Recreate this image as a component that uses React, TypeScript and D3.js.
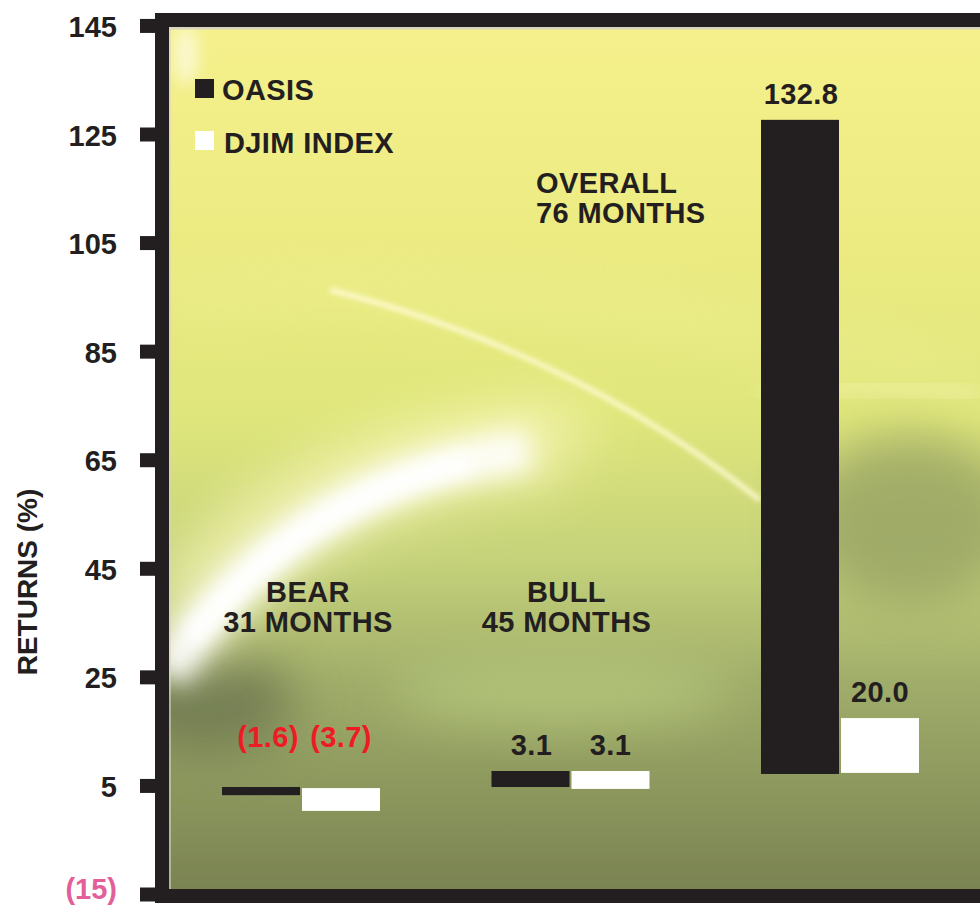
import React from "react";
import * as d3 from "d3";

const groups = ["BEAR", "BULL", "OVERALL"];
const groupMonths = ["31 MONTHS", "45 MONTHS", "76 MONTHS"];
const seriesNames = ["OASIS", "DJIM INDEX"];
const oasisLabels = ["(1.6)", "3.1", "132.8"];
const djimLabels = ["(3.7)", "3.1", "20.0"];
// Bar extents as drawn (axis units)
const oasisBase = [4.8, 4.8, 7.2];
const oasisEnd = [3.3, 7.75, 127.7];
const djimBase = [4.6, 4.45, 7.4];
const djimEnd = [0.4, 7.75, 17.5];
const tickValues = [145, 125, 105, 85, 65, 45, 25, 5, -15];
const tickLabels = ["145", "125", "105", "85", "65", "45", "25", "5", "(15)"];

const W = 980;
const H = 905;
const FONT = "'Liberation Sans', Arial, Helvetica, sans-serif";
const INK = "#231f20";
const FS = 29;
const LS = 0.4;

export default function App() {
  const y = d3.scaleLinear().domain([-15, 125]).range([894.5, 134.5]);
  const x = d3.scalePoint<string>().domain(groups).range([301, 840]);
  const frameLeft = 162;
  const frameTop = 20;
  const frameBottom = y(-15) + 1.5;
  const innerL = frameLeft + 7;
  const innerT = frameTop + 7;
  const innerB = frameBottom - 7;
  const bw = 78;
  const tickY = (v: number) => Math.max(y(v), frameTop);

  const bars: { x0: number; y0: number; y1: number; fill: string }[] = [];
  groups.forEach((g, i) => {
    const cx = x(g)!;
    bars.push({ x0: cx - bw - 1, y0: y(oasisBase[i]), y1: y(oasisEnd[i]), fill: INK });
    bars.push({ x0: cx + 1, y0: y(djimBase[i]), y1: y(djimEnd[i]), fill: "#ffffff" });
  });

  const txt = { fontFamily: FONT, fontWeight: "bold" as const, fontSize: FS, letterSpacing: LS };

  return (
    <svg width={W} height={H} style={{ position: "absolute", left: 0, top: 0, background: "#fff" }}>
      <defs>
        <linearGradient id="bg" x1="0" y1="0" x2="0" y2="1">
          <stop offset="0" stopColor="#f5f08b" />
          <stop offset="0.25" stopColor="#eceb82" />
          <stop offset="0.45" stopColor="#dfe67b" />
          <stop offset="0.62" stopColor="#c5d27a" />
          <stop offset="0.76" stopColor="#a0ad6a" />
          <stop offset="1" stopColor="#7a8352" />
        </linearGradient>
        <filter id="b25" x="-50%" y="-50%" width="200%" height="200%"><feGaussianBlur stdDeviation="25" /></filter>
        <filter id="b14" x="-50%" y="-50%" width="200%" height="200%"><feGaussianBlur stdDeviation="13" /></filter>
        <filter id="b8" x="-50%" y="-50%" width="200%" height="200%"><feGaussianBlur stdDeviation="8" /></filter>
        <filter id="b3" x="-50%" y="-50%" width="200%" height="200%"><feGaussianBlur stdDeviation="2.5" /></filter>
        <clipPath id="plot"><rect x={innerL} y={innerT} width={W - innerL} height={innerB - innerT} /></clipPath>
      </defs>

      {/* background */}
      <g clipPath="url(#plot)">
        <rect x={innerL} y={innerT} width={W - innerL} height={innerB - innerT} fill="url(#bg)" />
        <ellipse cx={910} cy={520} rx={110} ry={85} fill="#929d62" opacity={0.75} filter="url(#b25)" />
        <ellipse cx={205} cy={705} rx={90} ry={50} fill="#737d52" opacity={0.95} filter="url(#b25)" />
        <ellipse cx={560} cy={690} rx={170} ry={35} fill="#b6c87b" opacity={0.8} filter="url(#b25)" />
        <path d="M170,300 Q420,250 980,380" stroke="#f3f29c" strokeWidth={40} fill="none" opacity={0.35} filter="url(#b25)" />
        <path d="M170,600 Q300,420 600,430" stroke="#f6f5b0" strokeWidth={50} fill="none" opacity={0.45} filter="url(#b25)" />
        <path d="M170,650 Q300,470 560,445" stroke="#fbf8c4" strokeWidth={80} fill="none" opacity={0.55} filter="url(#b25)" />
        <path d="M166,675 Q290,480 530,450" stroke="#ffffff" strokeWidth={42} fill="none" opacity={0.95} filter="url(#b14)" />
        <path d="M190,640 Q300,500 470,462" stroke="#ffffff" strokeWidth={20} fill="none" opacity={0.95} filter="url(#b8)" />
        <path d="M330,290 Q570,350 760,500" stroke="#fffbd2" strokeWidth={5} fill="none" opacity={0.95} filter="url(#b3)" />
        <path d="M760,395 Q880,380 980,395" stroke="#eef0a0" strokeWidth={20} fill="none" opacity={0.6} filter="url(#b8)" />
        <ellipse cx={186} cy={55} rx={12} ry={30} fill="#ffffff" opacity={0.6} filter="url(#b8)" />
        <line x1={innerL} y1={innerT + 1} x2={W} y2={innerT + 1} stroke="#d8d4be" strokeWidth={3} />
        <line x1={innerL + 1} y1={innerT} x2={innerL + 1} y2={innerB} stroke="#d8d4be" strokeWidth={2} opacity={0.6} />
      </g>

      {/* frame */}
      <rect x={frameLeft} y={frameTop} width={W + 20 - frameLeft} height={frameBottom - frameTop} fill="none" stroke={INK} strokeWidth={14} />

      {/* y axis ticks */}
      {tickValues.map((v, i) => (
        <g key={v}>
          <rect x={140} y={tickY(v) - 7} width={15} height={14} fill={INK} />
          <text x={117} y={Math.min(tickY(v) + 11, 899)} textAnchor="end" {...txt} letterSpacing={0}
            fill={v < 0 ? "#e25f9a" : INK}>{tickLabels[i]}</text>
        </g>
      ))}
      <text transform={`translate(37,582) rotate(-90)`} textAnchor="middle" {...txt} fontSize={28} letterSpacing={0} fill={INK}>
        RETURNS (%)
      </text>

      {/* bars */}
      {bars.map((b, i) => (
        <rect key={i} x={b.x0} y={Math.min(b.y0, b.y1)} width={bw} height={Math.abs(b.y1 - b.y0)} fill={b.fill} />
      ))}

      {/* value labels */}
      {groups.map((g, i) => {
        const cx = x(g)!;
        const labs = [oasisLabels[i], djimLabels[i]];
        const tops = [Math.min(y(oasisBase[i]), y(oasisEnd[i])), Math.min(y(djimBase[i]), y(djimEnd[i]))];
        return labs.map((lab, j) => {
          const neg = lab.startsWith("(");
          const ly = neg ? y(oasisBase[i]) - 40 : tops[j] - 16;
          const lx = j === 0 ? cx - bw / 2 + (neg ? 6 : 0) : cx + bw / 2 + 1;
          return (
            <text key={g + j} x={lx} y={ly} textAnchor="middle" {...txt}
              fill={neg ? "#ed1c24" : INK}>{lab}</text>
          );
        });
      })}

      {/* group titles */}
      {groups.map((g, i) => {
        const cx = x(g)!;
        const overall = i === 2;
        const tx = overall ? cx - 304 : cx + (i === 0 ? 7 : -4);
        const ty = overall ? 193 : 602;
        return (
          <text key={g} x={tx} y={ty} textAnchor={overall ? "start" : "middle"} {...txt} fill={INK}>
            <tspan x={tx}>{g}</tspan>
            <tspan x={tx} dy={30}>{groupMonths[i]}</tspan>
          </text>
        );
      })}

      {/* legend */}
      {seriesNames.map((s, i) => (
        <g key={s}>
          <rect x={195} y={79 + i * 52} width={19} height={19} fill={i === 0 ? INK : "#ffffff"} />
          <text x={222 + i * 2} y={100 + i * 53} {...txt} fill={INK}>{s}</text>
        </g>
      ))}
    </svg>
  );
}
